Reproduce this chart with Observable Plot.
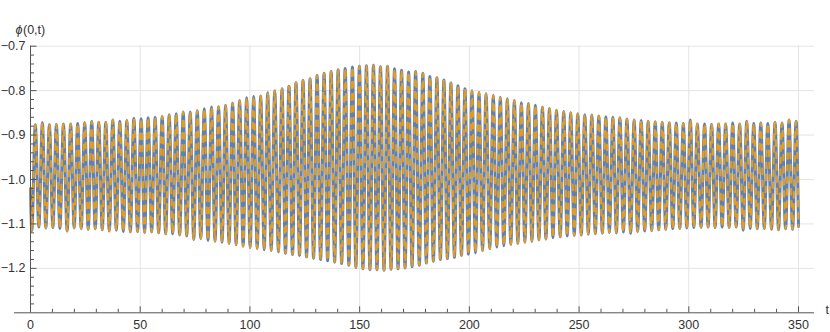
<!DOCTYPE html>
<html><head><meta charset="utf-8">
<script src="https://cdn.jsdelivr.net/npm/d3@7"></script>
<script src="https://cdn.jsdelivr.net/npm/@observablehq/plot@0.6"></script>
<style>body{margin:0;background:#fff} svg{display:block}</style>
</head><body><div id="chart"></div>
<script>
// local maxima of phi(0,t)
const highT = [2.2,5.4,8.6,11.8,15.0,18.3,21.5,24.7,27.9,31.1,34.3,37.5,40.7,43.9,47.1,50.4,53.6,56.8,60.0,63.2,66.4,69.6,72.8,76.0,79.2,82.5,85.7,88.9,92.1,95.3,98.5,101.7,104.9,108.1,111.3,114.6,117.8,121.0,124.2,127.4,130.6,133.8,137.0,140.2,143.4,146.7,149.9,153.1,156.3,159.5,162.7,165.9,169.1,172.3,175.5,178.8,182.0,185.2,188.4,191.6,194.8,198.0,201.2,204.4,207.6,210.9,214.1,217.3,220.5,223.7,226.9,230.1,233.3,236.5,239.7,243.0,246.2,249.4,252.6,255.8,259.0,262.2,265.4,268.6,271.8,275.1,278.3,281.5,284.7,287.9,291.1,294.3,297.5,300.7,303.9,307.2,310.4,313.6,316.8,320.0,323.2,326.4,329.6,332.8,336.0,339.3,342.5,345.7,348.9];
const highPhi = [-0.877,-0.872,-0.877,-0.876,-0.875,-0.875,-0.874,-0.872,-0.869,-0.871,-0.871,-0.866,-0.869,-0.867,-0.862,-0.863,-0.861,-0.860,-0.858,-0.854,-0.852,-0.848,-0.848,-0.845,-0.841,-0.837,-0.836,-0.833,-0.828,-0.822,-0.816,-0.813,-0.812,-0.805,-0.800,-0.796,-0.790,-0.782,-0.777,-0.773,-0.766,-0.761,-0.757,-0.753,-0.750,-0.747,-0.745,-0.744,-0.743,-0.746,-0.745,-0.751,-0.754,-0.758,-0.757,-0.761,-0.768,-0.771,-0.776,-0.783,-0.789,-0.796,-0.800,-0.804,-0.807,-0.811,-0.815,-0.818,-0.822,-0.827,-0.829,-0.833,-0.837,-0.840,-0.844,-0.847,-0.850,-0.852,-0.854,-0.855,-0.857,-0.859,-0.860,-0.861,-0.864,-0.866,-0.867,-0.869,-0.870,-0.871,-0.872,-0.873,-0.874,-0.866,-0.875,-0.875,-0.876,-0.875,-0.875,-0.873,-0.875,-0.869,-0.874,-0.873,-0.874,-0.871,-0.873,-0.866,-0.869];
// local minima (plus the two end points)
const lowT = [0,0.6,3.8,7.0,10.2,13.4,16.7,19.9,23.1,26.3,29.5,32.7,35.9,39.1,42.3,45.5,48.8,52.0,55.2,58.4,61.6,64.8,68.0,71.2,74.4,77.6,80.9,84.1,87.3,90.5,93.7,96.9,100.1,103.3,106.5,109.7,113.0,116.2,119.4,122.6,125.8,129.0,132.2,135.4,138.6,141.8,145.1,148.3,151.5,154.7,157.9,161.1,164.3,167.5,170.7,173.9,177.2,180.4,183.6,186.8,190.0,193.2,196.4,199.6,202.8,206.0,209.3,212.5,215.7,218.9,222.1,225.3,228.5,231.7,234.9,238.1,241.4,244.6,247.8,251.0,254.2,257.4,260.6,263.8,267.0,270.2,273.5,276.7,279.9,283.1,286.3,289.5,292.7,295.9,299.1,302.3,305.6,308.8,312.0,315.2,318.4,321.6,324.8,328.0,331.2,334.4,337.7,340.9,344.1,347.3,350];
const lowPhi = [-1.02,-1.115,-1.107,-1.109,-1.108,-1.110,-1.116,-1.109,-1.110,-1.112,-1.111,-1.113,-1.116,-1.114,-1.117,-1.118,-1.117,-1.119,-1.118,-1.120,-1.122,-1.122,-1.125,-1.127,-1.135,-1.133,-1.137,-1.139,-1.141,-1.144,-1.147,-1.150,-1.153,-1.155,-1.158,-1.160,-1.163,-1.166,-1.169,-1.171,-1.174,-1.177,-1.180,-1.183,-1.186,-1.189,-1.193,-1.198,-1.201,-1.203,-1.203,-1.204,-1.202,-1.201,-1.199,-1.196,-1.193,-1.188,-1.184,-1.180,-1.178,-1.175,-1.171,-1.168,-1.165,-1.160,-1.156,-1.152,-1.149,-1.146,-1.144,-1.141,-1.139,-1.136,-1.134,-1.131,-1.129,-1.127,-1.126,-1.125,-1.123,-1.122,-1.121,-1.119,-1.120,-1.118,-1.121,-1.117,-1.116,-1.115,-1.113,-1.112,-1.111,-1.110,-1.109,-1.108,-1.108,-1.107,-1.108,-1.107,-1.108,-1.107,-1.114,-1.110,-1.111,-1.110,-1.112,-1.113,-1.111,-1.112,-1.106];

const xTicks = [0,50,100,150,200,250,300,350];
const xMinor = [10,20,30,40,60,70,80,90,110,120,130,140,160,170,180,190,210,220,230,240,260,270,280,290,310,320,330,340];
const yTicks = [-1.2,-1.1,-1.0,-0.9,-0.8,-0.7];
const yMinor = [-1.28,-1.26,-1.24,-1.22,-1.18,-1.16,-1.14,-1.12,-1.08,-1.06,-1.04,-1.02,-0.98,-0.96,-0.94,-0.92,-0.88,-0.86,-0.84,-0.82,-0.78,-0.76,-0.74,-0.72];
const yLabelSym = "ϕ";
const yLabelArgs = "(0,t)";
const xLabel = "t";

const pts = highT.map((t, i) => ({t, phi: highPhi[i]}))
  .concat(lowT.map((t, i) => ({t, phi: lowPhi[i]})))
  .sort((a, b) => a.t - b.t);

const blue = "#5E81B5", orange = "#E19C24";
const axisCol = "#555", textCol = "#333";
const tMin = -7.3, tMax = 357.3;
const fmt = d => d.toFixed(1).replace("-", "\u2212");

const chart = Plot.plot({
  width: 830, height: 332,
  marginLeft: 30, marginRight: 32, marginTop: 45.7, marginBottom: 19.7,
  style: {fontFamily: "'Liberation Sans', Arial, sans-serif", fontSize: "12.5px", color: textCol, background: "#fff"},
  x: {domain: [0, 350], axis: null},
  y: {domain: [-1.3, -0.7], axis: null},
  marks: [
    Plot.ruleY(yTicks, {y: d => d, x1: 0, x2: tMax, stroke: "#e4e4e4", strokeWidth: 1}),
    Plot.ruleX(xTicks.slice(1), {x: d => d, y1: -1.3, y2: -0.7, stroke: "#e4e4e4", strokeWidth: 1}),
    Plot.line(pts, {x: "t", y: "phi", stroke: blue, strokeWidth: 3, curve: "monotone-x"}),
    Plot.line(pts, {x: "t", y: "phi", stroke: orange, strokeWidth: 2.2, strokeDasharray: "5.5,6.5", curve: "monotone-x"}),
    Plot.axisX({ticks: xMinor, tickSize: -3.5, tickFormat: () => "", stroke: axisCol, label: null}),
    Plot.axisX({ticks: xTicks, tickSize: -6, tickFormat: () => "", stroke: axisCol, label: null}),
    Plot.axisY({ticks: yMinor, tickSize: -4, tickFormat: () => "", stroke: axisCol, label: null}),
    Plot.axisY({ticks: yTicks, tickSize: -6.5, tickFormat: () => "", stroke: axisCol, label: null}),
    Plot.ruleY([-1.3], {y: d => d, x1: tMin, x2: tMax, stroke: axisCol, strokeWidth: 1}),
    Plot.ruleX([0], {x: d => d, y1: -1.3, y2: -0.7, stroke: axisCol, strokeWidth: 1}),
    Plot.text(xTicks, {x: d => d, frameAnchor: "bottom", dy: 12.5, text: d => String(d), fill: textCol, lineAnchor: "middle"}),
    Plot.text(yTicks, {y: d => d, frameAnchor: "left", dx: -5, textAnchor: "end", text: fmt, fill: textCol}),
    Plot.text([yLabelSym], {frameAnchor: "top-left", dx: -15, dy: -21, textAnchor: "start", fontStyle: "italic", text: d => d, fill: textCol}),
    Plot.text([yLabelArgs], {frameAnchor: "top-left", dx: -7.5, dy: -21, textAnchor: "start", text: d => d, fill: textCol}),
    Plot.text([xLabel], {frameAnchor: "bottom-right", dx: 27, dy: 1, textAnchor: "start", text: d => d, fill: textCol})
  ]
});
document.getElementById("chart").appendChild(chart);
</script>
</body></html>
